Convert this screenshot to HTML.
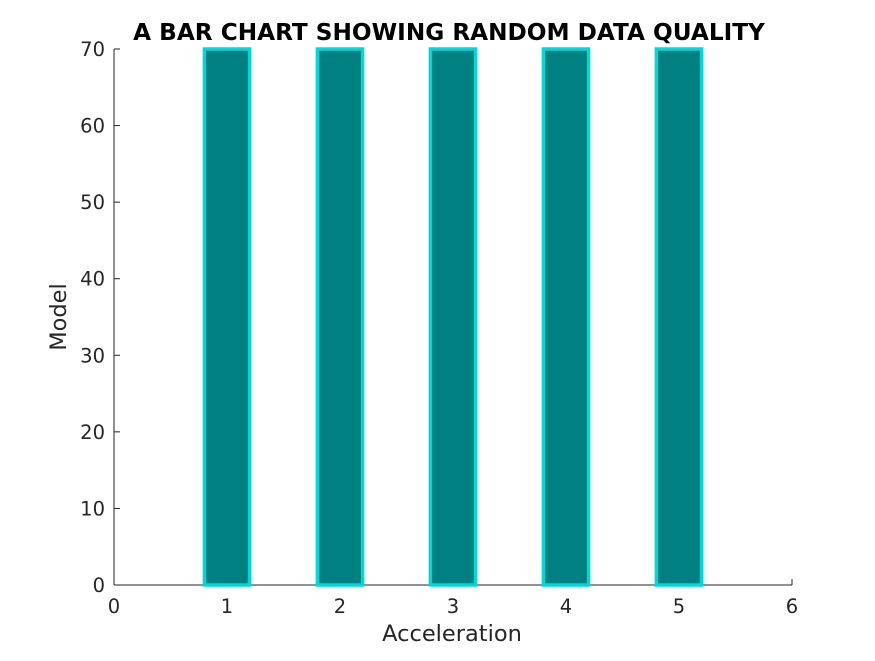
<!DOCTYPE html>
<html><head><meta charset="utf-8"><style>
body{margin:0;background:#fff;width:875px;height:656px;overflow:hidden}
svg text{font-family:"DejaVu Sans","Liberation Sans",sans-serif;fill:#262626}
</style></head><body>
<svg id="chart" width="875" height="656" xmlns="http://www.w3.org/2000/svg">
<text x="449" y="40" text-anchor="middle" font-size="23.2" font-weight="bold" style="fill:#000">A BAR CHART SHOWING RANDOM DATA QUALITY</text>
<g id="axes"></g>
<g id="bars"></g>
<text x="452" y="641" text-anchor="middle" font-size="22.5">Acceleration</text>
<text transform="translate(66,317) rotate(-90)" text-anchor="middle" font-size="22.5">Model</text>
</svg>
<script>
const categories=[1,2,3,4,5];
const values=[70,70,70,70,70];
const xTicks=[0,1,2,3,4,5,6];
const yTicks=[0,10,20,30,40,50,60,70];
const NS="http://www.w3.org/2000/svg";
const x0=114,x1=792,y0=585,y1=49;
const X=v=>x0+(v-0)/6*(x1-x0);
const Y=v=>y0-(v-0)/70*(y0-y1);
function mk(t,a,p){const e=document.createElementNS(NS,t);for(const k in a)e.setAttribute(k,a[k]);p.appendChild(e);return e;}
const bars=document.getElementById('bars'),axes=document.getElementById('axes');
const bw=0.4;
categories.forEach((c,i)=>{
 const v=Math.min(values[i],70);
 const r=mk('rect',{x:X(c-bw/2),y:Y(v),width:X(c+bw/2)-X(c-bw/2),height:Y(0)-Y(v),fill:'#008080',stroke:'#00d8d8','stroke-width':3.5},bars);
 
 
});
const xl=mk('line',{x1:x0,y1:y0,x2:x1,y2:y0,stroke:'#262626'},axes);


const yl=mk('line',{x1:x0,y1:y0,x2:x0,y2:y1,stroke:'#262626'},axes);


xTicks.forEach(t=>{
 mk('line',{x1:X(t),y1:y0,x2:X(t),y2:y0-6,stroke:'#262626'},axes);
 const tx=mk('text',{x:X(t),y:y0+28,'text-anchor':'middle','font-size':19.5},axes);
 tx.textContent=t;
 
 
});
yTicks.forEach(t=>{
 mk('line',{x1:x0,y1:Y(t),x2:x0+6,y2:Y(t),stroke:'#262626'},axes);
 const tx=mk('text',{x:x0-9,y:Y(t)+7,'text-anchor':'end','font-size':19.5},axes);
 tx.textContent=t;
 
 
});
</script>
</body></html>
